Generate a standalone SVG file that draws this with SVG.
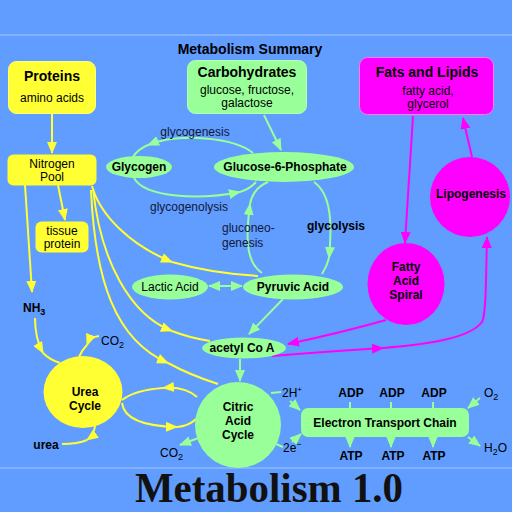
<svg xmlns="http://www.w3.org/2000/svg" width="512" height="512" viewBox="0 0 512 512">
<defs>
<marker id="ay" markerUnits="userSpaceOnUse" markerWidth="12" markerHeight="10" refX="11" refY="5" orient="auto"><path d="M0,0 L12,5 L0,10 z" fill="#FFFF33"/></marker>
<marker id="ag" markerUnits="userSpaceOnUse" markerWidth="12" markerHeight="10" refX="11" refY="5" orient="auto-start-reverse"><path d="M0,0 L12,5 L0,10 z" fill="#99FF99"/></marker>
<marker id="am" markerUnits="userSpaceOnUse" markerWidth="12" markerHeight="10" refX="11" refY="5" orient="auto"><path d="M0,0 L12,5 L0,10 z" fill="#FF00FF"/></marker>
</defs>
<style>
text{font-family:"Liberation Sans",Arial,sans-serif;fill:#000;}
text.big{font-family:"Liberation Serif","Times New Roman",serif;font-size:42px;font-weight:bold;text-anchor:middle;fill:#111;}
.t{font-size:14px;font-weight:bold;text-anchor:middle;}
.s{font-size:12px;text-anchor:middle;}
.b{font-size:12px;font-weight:bold;text-anchor:middle;}
.l{font-size:12px;fill:#101838;}
.y{fill:none;stroke:#FFFF33;stroke-width:2;}
.g{fill:none;stroke:#99FF99;stroke-width:2;}
.m{fill:none;stroke:#FF00FF;stroke-width:2;}
.ay{marker-end:url(#ay);}
.ag{marker-end:url(#ag);}
.am{marker-end:url(#am);}
</style>
<rect width="512" height="512" fill="#619CFF"/>
<line x1="0" y1="35" x2="512" y2="35" stroke="#8DB9FF" stroke-width="1.5"/>
<line x1="0" y1="468" x2="512" y2="468" stroke="#8DB9FF" stroke-width="1.5"/>
<text class="t" x="250" y="54">Metabolism Summary</text>

<g id="connectors">
<path class="y ay" d="M52,114 L52,153"/>
<path class="y ay" d="M58,185 L65,220"/>
<path class="y ay" d="M25,185 L32,292"/>
<path class="y ay" d="M35,318 C35,333 38,344 43,353"/>
<path class="y" d="M43,353 Q50,360 60,363"/>
<path class="y ay" d="M99,336 Q90,337 87,345"/>
<path class="y" d="M87,345 Q82,350 79,357"/>
<path class="y ay" d="M95,426 Q94,435 87,440"/>
<path class="y" d="M87,440 Q78,444 62,444"/>
<path class="y ay" d="M197,397 Q185,386 163,388"/>
<path class="y" d="M163,388 Q135,390 122,400"/>
<path class="y ay" d="M122,403 Q125,426 177,427"/>
<path class="y" d="M177,427 Q189,426 196,419"/>
<path class="y ay" d="M92,186 C100,215 130,245 172,262"/>
<path class="y" d="M172,262 Q210,273 258,276"/>
<path class="y ay" d="M93,188 C100,260 130,315 172,331"/>
<path class="y" d="M172,331 Q190,338 210,341"/>
<path class="y ay" d="M91,190 C95,280 115,340 168,363"/>
<path class="y" d="M168,363 Q190,375 218,384"/>

<path class="g ag" d="M264,115 L281,150"/>
<path class="g ag" d="M253,153 C235,138 180,132 148,145"/>
<path class="g" d="M148,145 Q138,149 133,157"/>
<path class="g ag" d="M134,178 C145,198 200,200 240,192"/>
<path class="g" d="M240,192 Q250,189 256,182"/>
<path class="g ag" d="M262,273 C245,262 246,235 250,204"/>
<path class="g" d="M250,204 Q253,188 268,182"/>
<path class="g ag" d="M314,182 C332,195 332,225 329,258"/>
<path class="g" d="M329,258 Q327,266 322,274"/>
<path class="g" d="M209,286 L242,286" marker-start="url(#ag)" marker-end="url(#ag)"/>
<path class="g ag" d="M283,299 L249,334"/>
<path class="g ag" d="M240,359 L240,381"/>
<path class="g ag" d="M201,437 L180,445"/>
<path class="g" d="M271,393 L281,392"/>
<path class="g ag" d="M290,401 L300,410"/>
<path class="g" d="M276,444 L283,447"/>
<path class="g ag" d="M292,442 L301,434"/>
<path class="g" d="M350,402 L350,409 M391,402 L391,409 M433,402 L433,409"/>
<path class="g ag" d="M350,436 L350,447"/>
<path class="g ag" d="M391,436 L391,447"/>
<path class="g ag" d="M433,436 L433,447"/>
<path class="g ag" d="M480,398 L468,408"/>
<path class="g ag" d="M468,437 L480,446"/>

<path class="m am" d="M413,116 L405,243"/>
<path class="m am" d="M472,157 L463,118"/>
<path class="m am" d="M386,320 Q340,333 288,344"/>
<path class="m am" d="M272,356 Q320,352 383,348"/>
<path class="m am" d="M383,348 C430,344 470,338 482,322 C486,315 486,280 487,237"/>
</g>

<g id="proteins"><rect x="8.5" y="61.5" width="87" height="52" rx="8" fill="#FFFF33" stroke="#FFFF77"/><text class="t" x="52" y="81">Proteins</text><text class="s" x="52" y="102">amino acids</text></g>
<g id="carbohydrates"><rect x="187.5" y="60.5" width="119" height="53" rx="8" fill="#99FF99" stroke="#B5FFB5"/><text class="t" x="247" y="77">Carbohydrates</text><text class="s" x="247" y="94">glucose, fructose,</text><text class="s" x="247" y="107">galactose</text></g>
<g id="fats"><rect x="359.5" y="57.5" width="134" height="57" rx="8" fill="#FF00FF" stroke="#FF77FF"/><text class="t" x="427" y="77">Fats and Lipids</text><text class="s" x="428" y="95">fatty acid,</text><text class="s" x="428" y="108">glycerol</text></g>
<g id="nitrogen-pool"><rect x="7.5" y="154.5" width="89" height="31" rx="6" fill="#FFFF33"/><text class="s" x="52" y="168">Nitrogen</text><text class="s" x="52" y="181">Pool</text></g>
<g id="tissue-protein"><rect x="35.5" y="221.5" width="53" height="31" rx="6" fill="#FFFF33"/><text class="s" x="62" y="235">tissue</text><text class="s" x="62" y="248">protein</text></g>
<g id="nh3"><text x="23" y="312" font-size="12" font-weight="bold">NH<tspan font-size="9" dy="3">3</tspan></text></g>
<g id="glycogen"><ellipse cx="139" cy="167" rx="33" ry="11" fill="#99FF99"/><text class="b" x="139" y="171">Glycogen</text></g>
<g id="glucose-6-phosphate"><ellipse cx="284" cy="167" rx="70" ry="15" fill="#99FF99"/><text class="b" x="285" y="171">Glucose-6-Phosphate</text></g>
<text class="l" x="195" y="136" text-anchor="middle">glycogenesis</text>
<text class="l" x="189" y="211" text-anchor="middle">glycogenolysis</text>
<text class="l" x="222" y="232">gluconeo-</text>
<text class="l" x="222" y="247">genesis</text>
<text class="b" x="336" y="230">glycolysis</text>
<g id="lactic-acid"><ellipse cx="170" cy="287" rx="38" ry="12.5" fill="#99FF99"/><text class="s" x="170" y="291">Lactic Acid</text></g>
<g id="pyruvic-acid"><ellipse cx="293" cy="287" rx="50" ry="12.5" fill="#99FF99"/><text class="b" x="293" y="291">Pyruvic Acid</text></g>
<g id="acetyl-coa"><ellipse cx="244" cy="348" rx="42" ry="10.5" fill="#99FF99"/><text class="b" x="242" y="352">acetyl Co A</text></g>
<g id="fatty-acid-spiral"><ellipse cx="406" cy="284" rx="38.5" ry="41" fill="#FF00FF"/><text class="b" x="406" y="271">Fatty</text><text class="b" x="406" y="285">Acid</text><text class="b" x="406" y="299">Spiral</text></g>
<g id="lipogenesis"><circle cx="470" cy="197" r="40" fill="#FF00FF"/><text class="b" x="471" y="198">Lipogenesis</text></g>
<g id="urea-cycle"><ellipse cx="83" cy="392" rx="39.5" ry="36" fill="#FFFF33"/><text class="b" x="85" y="396">Urea</text><text class="b" x="85" y="410">Cycle</text></g>
<g id="co2-urea"><text x="101" y="345" font-size="12">CO<tspan font-size="9" dy="3">2</tspan></text></g>
<g id="urea"><text class="b" x="46" y="449">urea</text></g>
<g id="citric-acid-cycle"><circle cx="238" cy="425" r="43" fill="#99FF99"/><text class="b" x="238" y="411">Citric</text><text class="b" x="238" y="425">Acid</text><text class="b" x="238" y="439">Cycle</text></g>
<g id="co2-citric"><text x="160" y="457" font-size="12">CO<tspan font-size="9" dy="3">2</tspan></text></g>
<text x="282" y="397" font-size="12">2H<tspan font-size="8" dy="-5">+</tspan></text>
<text x="283" y="452" font-size="12">2e<tspan font-size="9" dy="-5">−</tspan></text>
<g id="etc"><rect x="301" y="408" width="168" height="29" rx="7" fill="#99FF99"/><text class="b" x="385" y="427">Electron Transport Chain</text></g>
<text class="b" x="351" y="397">ADP</text><text class="b" x="392" y="397">ADP</text><text class="b" x="434" y="397">ADP</text>
<text class="b" x="351" y="460">ATP</text><text class="b" x="393" y="460">ATP</text><text class="b" x="434" y="460">ATP</text>
<text x="484" y="397" font-size="12">O<tspan font-size="9" dy="3">2</tspan></text>
<text x="484" y="452" font-size="12">H<tspan font-size="9" dy="3">2</tspan><tspan dy="-3">O</tspan></text>
<text class="big" x="269" y="502" textLength="268" lengthAdjust="spacingAndGlyphs">Metabolism 1.0</text>
</svg>
